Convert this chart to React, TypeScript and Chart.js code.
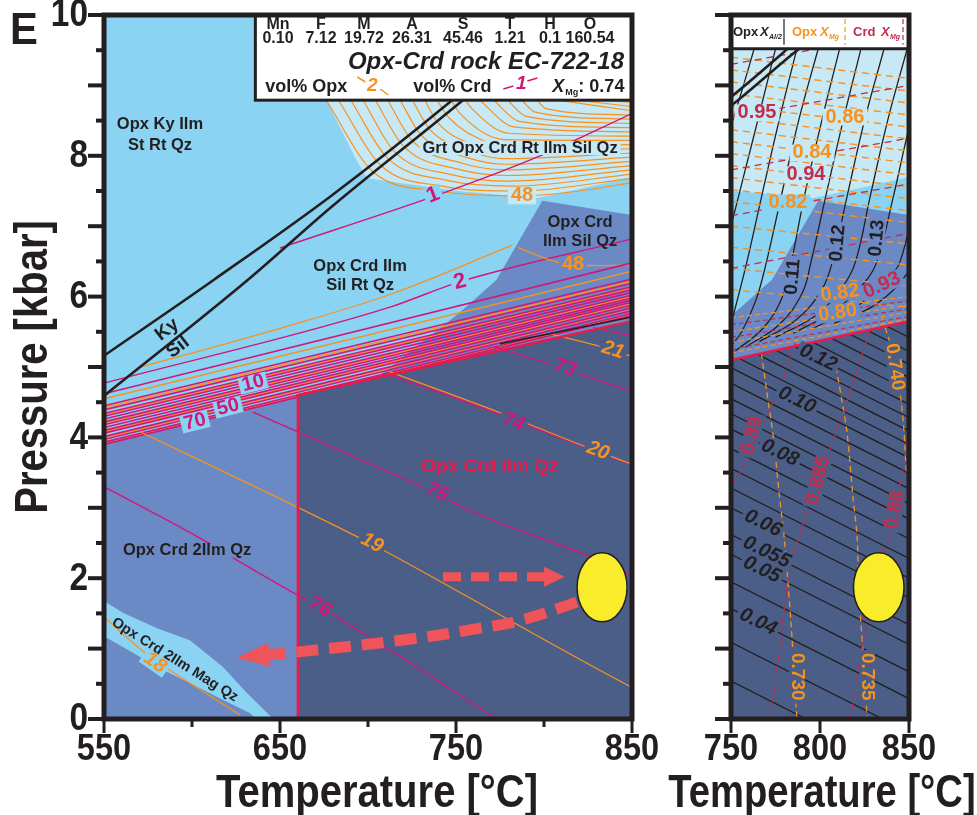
import { useEffect, useRef } from 'react';
import { Chart, registerables } from 'chart.js';

Chart.register(...registerables);

type Pt = [number, number];

const FONT = '"Liberation Sans", Arial, Helvetica, sans-serif';

const INK = '#231f20';
const FIELD_LIGHT = '#8bd3f2';
const FIELD_PALE = '#c7e8f5';
const FIELD_MID = '#6b8ac5';
const FIELD_DARK = '#4a5e88';
const CRD_LINE = '#d2177a';
const OPX_LINE = '#f7921e';
const FIELD_EDGE = '#e8194b';
const CRD_XMG = '#c32c4c';
const ARROW = '#ef5458';
const SAMPLE = '#f8ec2b';

// ---------- axes ----------
const pressureTicks = [0, 0.5, 1, 1.5, 2, 2.5, 3, 3.5, 4, 4.5, 5, 5.5, 6, 6.5, 7, 7.5, 8, 8.5, 9, 9.5, 10];
const pressureLabels = [0, 2, 4, 6, 8, 10];
const tempTicksMain = [550, 600, 650, 700, 750, 800, 850];
const tempLabelsMain = [550, 650, 750, 850];
const tempTicksZoom = [750, 800, 850];
const tempLabelsZoom = [750, 800, 850];

// ---------- bulk composition ----------
const oxides = ['Mn', 'F', 'M', 'A', 'S', 'T', 'H', 'O'];
const oxideValues = ['0.10', '7.12', '19.72', '26.31', '45.46', '1.21', '0.1', '160.54'];

// ---------- phase fields (T °C, P kbar) ----------
const fieldWhole: Pt[] = [[550, 0], [550, 10], [850, 10], [850, 0]];
const fieldSilIlm: Pt[] = [[550, 0], [550, 3.95], [660, 4.6], [705, 4.85], [752, 5.77], [773, 6.24], [799, 7.36], [850, 7.16], [850, 0]];
const fieldGrt: Pt[] = [[670, 10], [677, 8.76], [692.6, 7.98], [699.4, 7.68], [751, 7.5], [796, 7.4], [817, 7.51], [850, 7.7], [850, 10]];
const fieldMagUpper: Pt[] = [[549, 1.69], [560.8, 1.51], [580.1, 1.29], [598.8, 1.12], [617.6, 0.74], [631.2, 0.37], [642.6, 0.09], [650, -0.1]];
const fieldMagLower: Pt[] = [[549, 1.19], [566.5, 0.94], [580.1, 0.74], [598.8, 0.51], [617.6, 0.27], [632.9, 0.085], [640, -0.1]];
const fieldOpxCrdIlmQz: Pt[] = [[660.2, 0], [660.2, 4.6], [850, 5.65], [850, 0], [660.2, 0]];
const aboveOpxCrdIlmQz: Pt[] = [[540, 11], [860, 11], [860, 5.7], [850, 5.65], [660.2, 4.6], [660.2, -1], [540, -1]];

// ---------- Al2SiO5 ----------
const kyLine: Pt[] = [[550, 5.16], [612.5, 6.24], [679, 7.43], [748.3, 8.8], [778.6, 9.45], [805, 10.05]];
const silLine: Pt[] = [[550, 4.59], [631.8, 6.24], [679, 7.27], [756.8, 8.85], [784.8, 9.45], [810, 9.95]];

// ---------- vol% Crd isopleths (magenta) ----------
const crdOne: Pt[] = [[650, 6.69], [742.6, 7.47], [796, 7.98], [850, 8.6]];
const crdTwo: Pt[] = [[550, 4.77], [712.5, 5.85], [752, 6.21], [850, 6.82]];
const crdBandAt550 = [4.62, 4.45, 4.39, 4.34, 4.3, 4.26, 4.22, 4.18, 4.14, 4.1, 4.06, 4.01, 3.97, 3.93, 3.9];
const crdBandAt850 = [6.48, 6.25, 6.19, 6.14, 6.1, 6.06, 6.02, 5.98, 5.95, 5.92, 5.88, 5.84, 5.8, 5.76, 5.73];
const crd73: Pt[] = [[772, 5.28], [805, 5.03], [850, 4.65]];
const crd74: Pt[] = [[709.6, 4.91], [776, 4.32], [790, 4.18], [850, 3.61]];
const crd75: Pt[] = [[634.6, 4.36], [712.5, 3.5], [737.4, 3.22], [756, 2.98], [832, 2.25], [850, 2.05]];
const crd76: Pt[] = [[550, 3.3], [604.5, 2.57], [623.3, 2.29], [660, 1.76], [672.5, 1.59], [706.2, 1.08], [773, 0]];
const crdTopRight: Pt[] = [[828, 5.56], [850, 5.44]];

// ---------- vol% Opx isopleths (orange) ----------
const opxUpper: Pt[] = [[570, 4.99], [650, 5.55], [712.5, 6.03], [782, 6.73]];
const opx48Sil: Pt[] = [[785, 6.7], [800, 6.55], [811, 6.47], [830, 6.44], [850, 6.45]];
const opxBandAt550 = [4.55, 4.42, 4.32, 4.2, 4.08, 3.99, 3.91];
const opxBandAt850 = [6.36, 6.22, 6.12, 6.0, 5.9, 5.83, 5.75];
const opx21: Pt[] = [[805, 5.46], [833.4, 5.28], [850, 5.15]];
const opx20: Pt[] = [[712.5, 4.93], [775, 4.35], [824.3, 3.86], [850, 3.62]];
const opx19: Pt[] = [[570.4, 4.08], [651.7, 3.11], [695.4, 2.57], [708.5, 2.4], [847.6, 0.48], [850, 0.45]];
const opx18: Pt[] = [[550, 1.45], [573.3, 0.94], [585.8, 0.72], [627.2, 0.06]];
const opxGrt: Pt[][] = [
  [[676, 8.8], [703, 7.77], [740, 7.5], [787, 7.43], [820, 7.5], [850, 7.62]],
  [[683, 8.8], [707, 7.87], [742, 7.57], [785, 7.5], [850, 7.68]],
  [[690, 8.8], [711, 7.97], [745, 7.65], [783, 7.57], [850, 7.74]],
  [[697, 8.8], [715, 8.06], [748, 7.73], [781, 7.64], [850, 7.8]],
  [[704, 8.8], [720, 8.14], [751, 7.81], [780, 7.72], [850, 7.86]],
  [[711, 8.8], [725, 8.22], [754, 7.89], [779, 7.8], [850, 7.92]],
  [[718, 8.8], [730, 8.3], [757, 7.97], [778, 7.88], [850, 7.98]],
  [[725, 8.8], [735, 8.38], [760, 8.05], [777, 7.96], [850, 8.04]],
  [[732, 8.8], [740, 8.46], [763, 8.13], [777, 8.05], [850, 8.1]],
  [[739, 8.8], [746, 8.54], [766, 8.21], [777, 8.14], [850, 8.16]],
  [[747, 8.8], [752, 8.61], [778, 8.23], [850, 8.22]],
  [[755, 8.8], [759, 8.67], [780, 8.32], [850, 8.28]],
  [[763, 8.8], [783, 8.41], [850, 8.34]],
  [[771, 8.8], [786, 8.49], [850, 8.4]],
  [[779, 8.8], [790, 8.56], [850, 8.46]],
  [[787, 8.8], [795, 8.62], [850, 8.52]],
  [[796, 8.8], [801, 8.67], [850, 8.58]],
  [[805, 8.8], [850, 8.64]],
  [[815, 8.8], [850, 8.7]],
  [[826, 8.8], [850, 8.76]],
];

const fieldBoundaryBlack: Pt[] = [[775, 5.33], [850, 5.71]];

// ---------- sample & path ----------
const sampleCentre: Pt = [833, 1.87];
const sampleRadius: Pt = [14.2, 0.49];
const pathHeating: Pt[] = [[742.6, 2.02], [803, 2.02]];
const pathHeatingTip: Pt[] = [[800, 2.02], [811.8, 2.02]];
const pathCooling: Pt[] = [[818.7, 1.66], [788, 1.41], [763.6, 1.29], [725.5, 1.14], [655.6, 0.94], [644, 0.915]];
const pathCoolingTip: Pt[] = [[644, 0.915], [625.5, 0.87]];

// ---------- enlarged panel: Opx X(Al/2) ----------
const alLowAt750 = [6.7, 6.5, 6.32, 6.13, 5.94, 5.75, 5.56, 5.37, 5.18, 4.99, 4.77, 4.55, 4.34, 4.12, 3.84, 3.56, 3.28, 3.0, 2.62, 2.34, 1.95, 1.57, 1.09, 0.54];
const alLowAt850 = [5.42, 5.22, 5.04, 4.85, 4.66, 4.47, 4.28, 4.09, 3.9, 3.71, 3.49, 3.27, 3.06, 2.84, 2.56, 2.28, 2.0, 1.72, 1.34, 1.06, 0.67, 0.29, -0.19, -0.74];
const alUpper: Pt[][] = [
  [[763, 9.52], [757, 9.0], [751, 8.5]],
  [[775, 9.52], [766, 8.6], [757, 7.7], [750, 7.0]],
  [[787, 9.52], [777, 8.5], [767, 7.4], [759, 6.5], [752, 5.8], [750, 5.6]],
  [[799, 9.52], [788, 8.5], [778, 7.4], [770, 6.5], [764, 5.95], [756, 5.5], [750, 5.3]],
  [[811, 9.52], [801, 8.5], [791, 7.4], [784, 6.5], [779, 6.0], [768, 5.55], [752, 5.22]],
  [[823, 9.52], [813, 8.5], [803, 7.4], [795, 6.5], [790, 6.05], [777, 5.6], [758, 5.28]],
  [[836, 9.52], [825, 8.5], [815, 7.4], [807, 6.5], [801, 6.1], [787, 5.68], [766, 5.36]],
  [[849, 9.52], [838, 8.5], [828, 7.4], [820, 6.5], [813, 6.15], [798, 5.74], [775, 5.42]],
  [[862, 9.52], [851, 8.5], [841, 7.4], [832, 6.5], [825, 6.2], [808, 5.8], [785, 5.48]],
  [[862, 8.0], [854, 7.4], [845, 6.5], [838, 6.25], [820, 5.85], [796, 5.55]],
  [[860, 6.9], [851, 6.4], [832, 5.9], [808, 5.62]],
];

// ---------- enlarged panel: Opx X(Mg) ----------
const xmgOpxUpAt750 = [9.4, 9.22, 9.05, 8.88, 8.71, 8.54, 8.37, 8.2, 8.03, 7.86, 7.69, 7.52, 7.35, 7.0, 6.7, 6.4, 6.1];
const xmgOpxUpAt850 = [9.1, 8.92, 8.75, 8.58, 8.41, 8.24, 8.07, 7.9, 7.73, 7.56, 7.39, 7.22, 7.05, 6.75, 6.45, 6.15, 5.85];
const xmgOpxBandAt750 = [5.2, 5.35, 5.5, 5.7];
const xmgOpxBandAt850 = [5.68, 5.78, 5.88, 6.0];
const xmgOpx730: Pt[] = [[767, 5.2], [770, 4.67], [774, 3.96], [777, 3.21], [780, 2.54], [784, 1.26], [787, 0]];
const xmgOpx735: Pt[] = [[808, 5.14], [815, 4.1], [818.5, 3.15], [821, 2.54], [821.5, 1.88], [824, 1.02], [826.5, 0]];
const xmgOpx740: Pt[] = [[834.8, 5.7], [840, 5.28], [845, 4.63], [847, 4.15], [848.5, 3.5]];

// ---------- enlarged panel: Crd X(Mg) ----------
const xmgCrdUpAt750 = [9.3, 8.55, 7.8, 7.15, 6.4];
const xmgCrdUpAt850 = [9.75, 9.0, 8.25, 7.6, 6.9];
const xmgCrdBandAt750 = [5.25, 5.42, 5.6];
const xmgCrdBandAt850 = [5.72, 5.83, 5.94];
const xmgCrd89: Pt[] = [[786, 5.34], [779, 4.82], [768, 4.2], [757, 3.6], [750, 3.3]];
const xmgCrd885: Pt[] = [[828, 5.52], [815, 4.49], [804, 3.72], [793, 2.97], [783, 2.12], [777.5, 1.02], [772, 0]];
const xmgCrd88: Pt[] = [[850, 4.1], [846.6, 3.58], [839.3, 2.58], [834.8, 2.36], [826.4, 1.41], [817, 0]];

// ---------- labels ----------
type Label = { t: number; p: number; s: string; c: string; f: number; r?: number; it?: boolean; bg?: string };

const mainLabels: Label[] = [
  { t: 581.8, p: 8.44, s: 'Opx Ky Ilm', c: INK, f: 16.5 },
  { t: 581.8, p: 8.15, s: 'St Rt Qz', c: INK, f: 16.5 },
  { t: 786.4, p: 8.11, s: 'Grt Opx Crd Rt Ilm Sil Qz', c: INK, f: 16.5, bg: FIELD_PALE },
  { t: 820.5, p: 7.06, s: 'Opx Crd', c: INK, f: 16.5 },
  { t: 820.5, p: 6.78, s: 'Ilm Sil Qz', c: INK, f: 16.5 },
  { t: 695.5, p: 6.43, s: 'Opx Crd Ilm', c: INK, f: 16.5 },
  { t: 695.5, p: 6.16, s: 'Sil Rt Qz', c: INK, f: 16.5 },
  { t: 597.2, p: 2.39, s: 'Opx Crd 2Ilm Qz', c: INK, f: 16.5, bg: FIELD_MID },
  { t: 769.3, p: 3.58, s: 'Opx Crd Ilm Qz', c: FIELD_EDGE, f: 19 },
  { t: 590.3, p: 0.84, s: 'Opx Crd 2Ilm Mag Qz', c: INK, f: 14.5, r: 32 },
  { t: 585.8, p: 5.53, s: 'Ky', c: INK, f: 19, r: -38 },
  { t: 592, p: 5.28, s: 'Sil', c: INK, f: 19, r: -38 },
  { t: 737, p: 7.44, s: '1', c: CRD_LINE, f: 22, r: -21, bg: FIELD_LIGHT },
  { t: 752.3, p: 6.21, s: '2', c: CRD_LINE, f: 22, r: -14, bg: FIELD_LIGHT },
  { t: 634.7, p: 4.77, s: '10', c: CRD_LINE, f: 20, r: -14, bg: FIELD_LIGHT },
  { t: 620.5, p: 4.43, s: '50', c: CRD_LINE, f: 20, r: -14, bg: FIELD_LIGHT },
  { t: 601.7, p: 4.22, s: '70', c: CRD_LINE, f: 20, r: -14, bg: FIELD_LIGHT },
  { t: 811.9, p: 4.99, s: '73', c: CRD_LINE, f: 20, r: 18, it: true, bg: FIELD_DARK },
  { t: 782.4, p: 4.22, s: '74', c: CRD_LINE, f: 20, r: 20, it: true, bg: FIELD_DARK },
  { t: 739.2, p: 3.22, s: '75', c: CRD_LINE, f: 20, r: 24, it: true, bg: FIELD_DARK },
  { t: 672.7, p: 1.59, s: '76', c: CRD_LINE, f: 20, r: 27, it: true, bg: FIELD_DARK },
  { t: 787.5, p: 7.43, s: '48', c: OPX_LINE, f: 20, bg: FIELD_PALE },
  { t: 816.5, p: 6.45, s: '48', c: OPX_LINE, f: 20, bg: FIELD_MID },
  { t: 839.2, p: 5.24, s: '21', c: OPX_LINE, f: 20, r: 18, it: true, bg: FIELD_DARK },
  { t: 830.7, p: 3.81, s: '20', c: OPX_LINE, f: 20, r: 21, it: true, bg: FIELD_DARK },
  { t: 702.3, p: 2.5, s: '19', c: OPX_LINE, f: 20, r: 27, it: true, bg: FIELD_DARK },
  { t: 579, p: 0.8, s: '18', c: OPX_LINE, f: 20, r: 35, it: true, bg: FIELD_LIGHT },
];

const zoomLabels: Label[] = [
  { t: 764.6, p: 8.61, s: '0.95', c: CRD_XMG, f: 20, bg: FIELD_PALE },
  { t: 814, p: 8.55, s: '0.86', c: OPX_LINE, f: 20, bg: FIELD_PALE },
  { t: 795.5, p: 8.04, s: '0.84', c: OPX_LINE, f: 20, bg: FIELD_PALE },
  { t: 792.1, p: 7.73, s: '0.94', c: CRD_XMG, f: 20, bg: FIELD_PALE },
  { t: 782, p: 7.33, s: '0.82', c: OPX_LINE, f: 20, bg: FIELD_LIGHT },
  { t: 784.8, p: 6.28, s: '0.11', c: INK, f: 19, r: -85, bg: FIELD_MID },
  { t: 810, p: 6.76, s: '0.12', c: INK, f: 19, r: -85, bg: FIELD_MID },
  { t: 832, p: 6.83, s: '0.13', c: INK, f: 19, r: -85, bg: FIELD_MID },
  { t: 811.2, p: 6.05, s: '0.82', c: OPX_LINE, f: 20, r: -8, bg: FIELD_MID },
  { t: 834.8, p: 6.16, s: '0.93', c: CRD_XMG, f: 20, r: -25, bg: FIELD_MID },
  { t: 810, p: 5.77, s: '0.80', c: OPX_LINE, f: 20, r: -8, bg: FIELD_MID },
  { t: 842, p: 5.0, s: '0.740', c: OPX_LINE, f: 19, r: 82, bg: FIELD_DARK },
  { t: 799, p: 5.13, s: '0.12', c: INK, f: 20, r: 26, it: true, bg: FIELD_DARK },
  { t: 787, p: 4.53, s: '0.10', c: INK, f: 20, r: 26, it: true, bg: FIELD_DARK },
  { t: 777.5, p: 3.78, s: '0.08', c: INK, f: 20, r: 26, it: true, bg: FIELD_DARK },
  { t: 768, p: 2.78, s: '0.06', c: INK, f: 20, r: 26, it: true, bg: FIELD_DARK },
  { t: 770, p: 2.37, s: '0.055', c: INK, f: 20, r: 26, it: true, bg: FIELD_DARK },
  { t: 767.4, p: 2.12, s: '0.05', c: INK, f: 20, r: 26, it: true, bg: FIELD_DARK },
  { t: 765.2, p: 1.38, s: '0.04', c: INK, f: 20, r: 26, it: true, bg: FIELD_DARK },
  { t: 761.8, p: 4.03, s: '0.89', c: CRD_XMG, f: 20, r: -75, bg: FIELD_DARK },
  { t: 798.9, p: 3.39, s: '0.885', c: CRD_XMG, f: 20, r: -75, bg: FIELD_DARK },
  { t: 842, p: 2.97, s: '0.88', c: CRD_XMG, f: 20, r: -80, bg: FIELD_DARK },
  { t: 787, p: 0.6, s: '0.730', c: OPX_LINE, f: 19, r: 90, bg: FIELD_DARK },
  { t: 826.4, p: 0.6, s: '0.735', c: OPX_LINE, f: 19, r: 90, bg: FIELD_DARK },
];

// ---------- dataset helpers ----------
const toXY = (pts: Pt[]) => pts.map(([x, y]) => ({ x, y }));

function area(pts: Pt[], color: string) {
  return {
    data: toXY(pts), showLine: true, fill: 'shape', backgroundColor: color,
    borderColor: 'rgba(0,0,0,0)', borderWidth: 1, pointRadius: 0, tension: 0,
  };
}

function curve(pts: Pt[], color: string, width: number, o: { dash?: number[]; tension?: number; mono?: boolean; clipTo?: Pt[] } = {}) {
  return {
    data: toXY(pts), showLine: true, fill: false, borderColor: color, borderWidth: width,
    borderDash: o.dash ?? [], tension: o.tension ?? (o.mono ? 0.4 : 0),
    cubicInterpolationMode: o.mono ? 'monotone' : 'default',
    pointRadius: 0, clipTo: o.clipTo,
  };
}

const pairs = (a: number[], b: number[], t0: number, t1: number): Pt[][] =>
  a.map((p, i) => [[t0, p], [t1, b[i]]]);

// ---------- drawing helpers ----------
type TextOpt = { size: number; color: string; style?: string; align?: CanvasTextAlign; rot?: number; sx?: number; bg?: string; base?: CanvasTextBaseline };

function text(ctx: CanvasRenderingContext2D, s: string, x: number, y: number, o: TextOpt) {
  ctx.save();
  ctx.translate(x, y);
  if (o.rot) ctx.rotate((o.rot * Math.PI) / 180);
  ctx.scale(o.sx ?? 1, 1);
  ctx.font = `${o.style ?? 'bold'} ${o.size}px ${FONT}`;
  ctx.textAlign = o.align ?? 'center';
  ctx.textBaseline = o.base ?? 'middle';
  if (o.bg) {
    const w = ctx.measureText(s).width;
    ctx.fillStyle = o.bg;
    const x0 = o.align === 'left' ? 0 : o.align === 'right' ? -w : -w / 2;
    ctx.fillRect(x0 - 3, -o.size * 0.42, w + 6, o.size * 0.84);
  }
  ctx.fillStyle = o.color;
  ctx.fillText(s, 0, 0);
  ctx.restore();
}

const X = (c: Chart, t: number) => c.scales.x.getPixelForValue(t);
const Y = (c: Chart, p: number) => c.scales.y.getPixelForValue(p);

function clipToArea(c: Chart) {
  const ctx = c.ctx;
  ctx.beginPath();
  ctx.rect(c.chartArea.left, c.chartArea.top, c.chartArea.right - c.chartArea.left, c.chartArea.bottom - c.chartArea.top);
  ctx.clip();
}

function drawLabels(c: Chart, list: Label[]) {
  const ctx = c.ctx;
  ctx.save();
  clipToArea(c);
  for (const l of list) {
    text(ctx, l.s, X(c, l.t), Y(c, l.p), { size: l.f, color: l.c, rot: l.r, bg: l.bg, style: l.it ? 'italic bold' : 'bold' });
  }
  ctx.restore();
}

function drawSample(c: Chart) {
  const ctx = c.ctx;
  const cx = X(c, sampleCentre[0]);
  const cy = Y(c, sampleCentre[1]);
  const rx = X(c, sampleCentre[0] + sampleRadius[0]) - cx;
  const ry = cy - Y(c, sampleCentre[1] + sampleRadius[1]);
  ctx.save();
  ctx.beginPath();
  ctx.ellipse(cx, cy, rx, ry, 0, 0, Math.PI * 2);
  ctx.fillStyle = SAMPLE;
  ctx.fill();
  ctx.lineWidth = 1.5;
  ctx.strokeStyle = INK;
  ctx.stroke();
  ctx.restore();
}

function arrowHead(c: Chart, seg: Pt[], half: number) {
  const ctx = c.ctx;
  const bx = X(c, seg[0][0]), by = Y(c, seg[0][1]);
  const tx = X(c, seg[1][0]), ty = Y(c, seg[1][1]);
  const a = Math.atan2(ty - by, tx - bx);
  const nx = -Math.sin(a) * half, ny = Math.cos(a) * half;
  ctx.save();
  ctx.beginPath();
  ctx.moveTo(tx, ty);
  ctx.lineTo(bx + nx, by + ny);
  ctx.lineTo(bx - nx, by - ny);
  ctx.closePath();
  ctx.fillStyle = ARROW;
  ctx.fill();
  ctx.restore();
}

function drawFrameAndAxes(c: Chart, tTicks: number[], tLabels: number[], main: boolean) {
  const ctx = c.ctx;
  const { left, right, top, bottom } = c.chartArea;
  ctx.save();
  ctx.fillStyle = INK;
  for (const v of pressureTicks) {
    const y = Y(c, v);
    const len = Number.isInteger(v) ? 14 : 6;
    ctx.fillRect(left - 2 - len, y - 2, len, 4);
  }
  for (const v of tTicks) {
    const x = X(c, v);
    const len = tLabels.includes(v) ? 12 : 6;
    ctx.fillRect(x - 1.5, bottom + 2, 3, len);
  }
  ctx.strokeStyle = INK;
  ctx.lineWidth = 5;
  ctx.strokeRect(left, top, right - left, bottom - top);
  if (main) {
    for (const v of pressureLabels) {
      text(ctx, String(v), left - 16, Y(c, v) + 1, { size: 38, color: INK, align: 'right', sx: 0.88 });
    }
  }
  for (const v of tLabels) {
    text(ctx, String(v), X(c, v), bottom + 31, { size: 37, color: INK, sx: 0.88 });
  }
  text(ctx, 'Temperature [°C]', (left + right) / 2 + (main ? 9 : 2), bottom + 75, { size: 46, color: INK, sx: main ? 0.87 : 0.83 });
  ctx.restore();
}

const fieldClip = {
  id: 'fieldClip',
  beforeDatasetDraw(chart: Chart, args: { index: number }) {
    const ds = chart.data.datasets[args.index] as { clipTo?: Pt[] };
    if (!ds.clipTo) return;
    const ctx = chart.ctx;
    ctx.save();
    ctx.beginPath();
    ds.clipTo.forEach(([t, p], i) => (i ? ctx.lineTo(X(chart, t), Y(chart, p)) : ctx.moveTo(X(chart, t), Y(chart, p))));
    ctx.closePath();
    ctx.clip();
  },
  afterDatasetDraw(chart: Chart, args: { index: number }) {
    const ds = chart.data.datasets[args.index] as { clipTo?: Pt[] };
    if (ds.clipTo) chart.ctx.restore();
  },
};

const mainOverlay = {
  id: 'mainOverlay',
  afterDatasetsDraw(c: Chart) {
    const ctx = c.ctx;
    ctx.save();
    clipToArea(c);
    arrowHead(c, pathHeatingTip, 10);
    arrowHead(c, pathCoolingTip, 12);
    drawSample(c);
    ctx.restore();
    drawLabels(c, mainLabels);

    // composition / legend box
    const bx = X(c, 636), by = c.chartArea.top, bw = c.chartArea.right - bx, bh = Y(c, 8.79) - by;
    ctx.save();
    ctx.fillStyle = '#ffffff';
    ctx.fillRect(bx, by, bw, bh);
    ctx.strokeStyle = INK;
    ctx.lineWidth = 3;
    ctx.strokeRect(bx, by, bw, bh);
    const cols = [278, 321, 364, 412, 463, 510, 550, 590];
    cols.forEach((cx, i) => {
      text(ctx, oxides[i], cx, by + 10, { size: 16, color: INK });
      text(ctx, oxideValues[i], cx, by + 24, { size: 16, color: INK });
    });
    text(ctx, 'Opx-Crd rock EC-722-18', bx + bw - 8, by + 47, { size: 24, color: INK, style: 'italic bold', align: 'right' });
    text(ctx, 'vol% Opx', bx + 10, by + 72, { size: 18, color: INK, align: 'left' });
    ctx.strokeStyle = OPX_LINE;
    ctx.lineWidth = 1.5;
    ctx.beginPath();
    ctx.moveTo(bx + 102, by + 62); ctx.lineTo(bx + 110, by + 67);
    ctx.moveTo(bx + 125, by + 74); ctx.lineTo(bx + 133, by + 80);
    ctx.stroke();
    text(ctx, '2', bx + 117, by + 71, { size: 19, color: OPX_LINE, style: 'italic bold' });
    text(ctx, 'vol% Crd', bx + 158, by + 72, { size: 18, color: INK, align: 'left' });
    ctx.strokeStyle = CRD_LINE;
    ctx.beginPath();
    ctx.moveTo(bx + 248, by + 74); ctx.lineTo(bx + 258, by + 71);
    ctx.moveTo(bx + 272, by + 66); ctx.lineTo(bx + 282, by + 63);
    ctx.stroke();
    text(ctx, '1', bx + 266, by + 69, { size: 19, color: CRD_LINE, style: 'italic bold' });
    text(ctx, 'X', bx + 297, by + 72, { size: 18, color: INK, style: 'italic bold', align: 'left' });
    text(ctx, 'Mg', bx + 310, by + 78, { size: 9, color: INK, align: 'left' });
    text(ctx, ': 0.74', bx + 323, by + 72, { size: 18, color: INK, align: 'left' });
    ctx.restore();

    drawFrameAndAxes(c, tempTicksMain, tempLabelsMain, true);
    text(ctx, 'Pressure [kbar]', c.chartArea.left - 70, (c.chartArea.top + c.chartArea.bottom) / 2, { size: 46, color: INK, rot: -90, sx: 0.87 });
    text(ctx, 'E', 24, 32, { size: 44, color: INK, sx: 0.95 });
  },
};

const zoomOverlay = {
  id: 'zoomOverlay',
  afterDatasetsDraw(c: Chart) {
    const ctx = c.ctx;
    ctx.save();
    clipToArea(c);
    drawSample(c);
    ctx.restore();
    drawLabels(c, zoomLabels);

    const { left, right, top } = c.chartArea;
    const hb = Y(c, 9.52);
    ctx.save();
    ctx.fillStyle = '#ffffff';
    ctx.fillRect(left, top, right - left, hb - top);
    ctx.strokeStyle = INK;
    ctx.lineWidth = 3;
    ctx.beginPath();
    ctx.moveTo(left, hb); ctx.lineTo(right, hb);
    ctx.stroke();
    const ym = (top + hb) / 2 + 1;
    text(ctx, 'Opx', left + 2, ym, { size: 13, color: INK, align: 'left' });
    text(ctx, 'X', left + 29, ym, { size: 13, color: INK, align: 'left', style: 'italic bold' });
    text(ctx, 'Al/2', left + 38, ym + 4, { size: 7, color: INK, align: 'left', style: 'italic bold' });
    ctx.lineWidth = 1.2;
    ctx.beginPath(); ctx.moveTo(left + 53, top + 4); ctx.lineTo(left + 53, hb - 4); ctx.stroke();
    text(ctx, 'Opx', left + 61, ym, { size: 13, color: OPX_LINE, align: 'left' });
    text(ctx, 'X', left + 89, ym, { size: 13, color: OPX_LINE, align: 'left', style: 'italic bold' });
    text(ctx, 'Mg', left + 98, ym + 4, { size: 7, color: OPX_LINE, align: 'left', style: 'italic bold' });
    ctx.setLineDash([5, 3]);
    ctx.strokeStyle = OPX_LINE;
    ctx.beginPath(); ctx.moveTo(left + 114, top + 4); ctx.lineTo(left + 114, hb - 4); ctx.stroke();
    text(ctx, 'Crd', left + 122, ym, { size: 13, color: CRD_XMG, align: 'left' });
    text(ctx, 'X', left + 150, ym, { size: 13, color: CRD_XMG, align: 'left', style: 'italic bold' });
    text(ctx, 'Mg', left + 159, ym + 4, { size: 7, color: CRD_XMG, align: 'left', style: 'italic bold' });
    ctx.strokeStyle = CRD_XMG;
    ctx.beginPath(); ctx.moveTo(left + 172, top + 4); ctx.lineTo(left + 172, hb - 4); ctx.stroke();
    ctx.restore();

    drawFrameAndAxes(c, tempTicksZoom, tempLabelsZoom, false);
  },
};

function withOrder(list: object[]) {
  return list.map((d, i) => ({ ...d, order: -i }));
}

function mainDatasets() {
  const list: object[] = [
    area(fieldWhole, FIELD_LIGHT),
    area(fieldSilIlm, FIELD_MID),
    area(fieldGrt, FIELD_PALE),
    area([...fieldMagUpper, ...[...fieldMagLower].reverse()], FIELD_LIGHT),
    area(fieldOpxCrdIlmQz, FIELD_DARK),
  ];
  for (const l of opxGrt) list.push(curve(l, OPX_LINE, 1.2, { mono: true }));
  list.push(curve(crdOne, CRD_LINE, 1.4, { mono: true }));
  list.push(curve(crdTwo, CRD_LINE, 1.4, { mono: true }));
  list.push(curve(opxUpper, OPX_LINE, 1.3, { mono: true }));
  list.push(curve(opx48Sil, OPX_LINE, 1.3, { mono: true }));
  pairs(opxBandAt550, opxBandAt850, 550, 850).forEach((l) => list.push(curve(l, OPX_LINE, 1.5, { clipTo: aboveOpxCrdIlmQz })));
  pairs(crdBandAt550, crdBandAt850, 550, 850).forEach((l) => list.push(curve(l, CRD_LINE, 1.6, { clipTo: aboveOpxCrdIlmQz })));
  for (const l of [crd73, crd74, crd75, crd76, crdTopRight]) list.push(curve(l, CRD_LINE, 1.4, { mono: true }));
  for (const l of [opx21, opx20, opx19, opx18]) list.push(curve(l, OPX_LINE, 1.3, { mono: true }));
  list.push(curve(kyLine, INK, 2.6, { mono: true }));
  list.push(curve(silLine, INK, 2.6, { mono: true }));
  list.push(curve(fieldBoundaryBlack, INK, 1.6));
  list.push(curve(fieldOpxCrdIlmQz, FIELD_EDGE, 2.6));
  list.push(curve(pathHeating, ARROW, 9, { dash: [18, 10] }));
  list.push(curve(pathCooling, ARROW, 11, { dash: [22, 11], tension: 0.4 }));
  return withOrder(list);
}

const aboveRed: Pt[] = [[740, 11], [860, 11], [860, 5.7], [850, 5.65], [740, 5.0]];

function zoomDatasets() {
  const list: object[] = [
    area(fieldWhole, FIELD_LIGHT),
    area(fieldSilIlm, FIELD_MID),
    area(fieldGrt, FIELD_PALE),
    area(fieldOpxCrdIlmQz, FIELD_DARK),
  ];
  pairs(alLowAt750, alLowAt850, 750, 850).forEach((l) => list.push(curve(l, INK, 1.3, { clipTo: fieldOpxCrdIlmQz })));
  list.push(curve(xmgOpx730, OPX_LINE, 1.3, { dash: [6, 4], tension: 0.3 }));
  list.push(curve(xmgOpx735, OPX_LINE, 1.3, { dash: [6, 4], tension: 0.3 }));
  list.push(curve(xmgOpx740, OPX_LINE, 1.3, { dash: [6, 4], tension: 0.3 }));
  list.push(curve(xmgCrd89, CRD_XMG, 1.2, { dash: [6, 4], tension: 0.3 }));
  list.push(curve(xmgCrd885, CRD_XMG, 1.2, { dash: [6, 4], tension: 0.3 }));
  list.push(curve(xmgCrd88, CRD_XMG, 1.2, { dash: [6, 4], tension: 0.3 }));
  for (const l of alUpper) list.push(curve(l, INK, 1.3, { tension: 0.4, clipTo: aboveRed }));
  pairs(xmgOpxUpAt750, xmgOpxUpAt850, 750, 850).forEach((l) => list.push(curve(l, OPX_LINE, 1.4, { dash: [7, 5], clipTo: aboveRed })));
  pairs(xmgCrdUpAt750, xmgCrdUpAt850, 750, 850).forEach((l) => list.push(curve(l, CRD_XMG, 1.3, { dash: [7, 5], clipTo: aboveRed })));
  pairs(xmgOpxBandAt750, xmgOpxBandAt850, 750, 850).forEach((l) => list.push(curve(l, OPX_LINE, 1.3, { dash: [5, 3], clipTo: aboveRed })));
  pairs(xmgCrdBandAt750, xmgCrdBandAt850, 750, 850).forEach((l) => list.push(curve(l, CRD_XMG, 1.2, { dash: [5, 3], clipTo: aboveRed })));
  list.push(curve(kyLine, INK, 2.6, { mono: true }));
  list.push(curve(silLine, INK, 2.6, { mono: true }));
  list.push(curve(fieldOpxCrdIlmQz, FIELD_EDGE, 2.6));
  return withOrder(list);
}

function baseOptions(tMin: number, tMax: number, padding: { left: number; right: number; top: number; bottom: number }) {
  return {
    responsive: false,
    animation: false as const,
    events: [],
    layout: { padding },
    plugins: { legend: { display: false }, tooltip: { enabled: false } },
    scales: {
      x: { type: 'linear' as const, min: tMin, max: tMax, display: false },
      y: { type: 'linear' as const, min: 0, max: 10, display: false },
    },
  };
}

export default function App() {
  const mainRef = useRef<HTMLCanvasElement>(null);
  const zoomRef = useRef<HTMLCanvasElement>(null);

  useEffect(() => {
    if (!mainRef.current || !zoomRef.current) return;
    const main = new Chart(mainRef.current, {
      type: 'scatter',
      data: { datasets: mainDatasets() as never[] },
      options: baseOptions(550, 850, { left: 104, right: 28, top: 15, bottom: 96 }) as never,
      plugins: [fieldClip as never, mainOverlay as never],
    });
    const zoom = new Chart(zoomRef.current, {
      type: 'scatter',
      data: { datasets: zoomDatasets() as never[] },
      options: baseOptions(750, 850, { left: 71, right: 68, top: 15, bottom: 96 }) as never,
      plugins: [fieldClip as never, zoomOverlay as never],
    });
    return () => {
      main.destroy();
      zoom.destroy();
    };
  }, []);

  return (
    <div style={{ position: 'absolute', left: 0, top: 0, width: 977, height: 815, background: '#ffffff', overflow: 'hidden' }}>
      <canvas ref={mainRef} width={660} height={815} style={{ position: 'absolute', left: 0, top: 0, width: 660, height: 815 }} />
      <canvas ref={zoomRef} width={317} height={815} style={{ position: 'absolute', left: 660, top: 0, width: 317, height: 815 }} />
    </div>
  );
}
